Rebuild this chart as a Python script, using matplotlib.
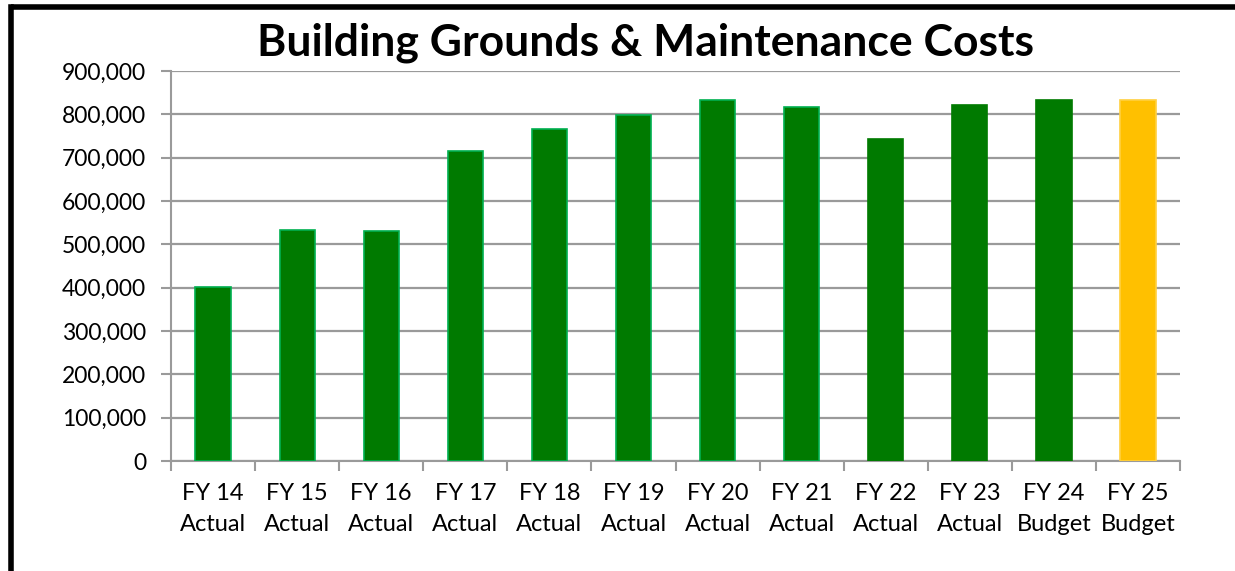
import matplotlib
matplotlib.use('Agg')
import matplotlib.pyplot as plt
from matplotlib.lines import Line2D
from matplotlib.ticker import FuncFormatter

plt.rcParams['font.family'] = ['Lato', 'DejaVu Sans']

categorias = ['FY 14\nActual', 'FY 15\nActual', 'FY 16\nActual', 'FY 17\nActual',
              'FY 18\nActual', 'FY 19\nActual', 'FY 20\nActual', 'FY 21\nActual',
              'FY 22\nActual', 'FY 23\nActual', 'FY 24\nBudget', 'FY 25\nBudget']
custos = [402000, 532000, 531000, 715000, 766000, 798000,
          833000, 818000, 744000, 821000, 833000, 833000]
cores = ['#007A00'] * 11 + ['#FFC000']
bordas = ['#00B050'] * 8 + ['#007A00'] * 3 + ['#FFD040']

fig = plt.figure(figsize=(12.35, 5.71), dpi=100)
ax = fig.add_axes([0.1385, 0.1926, 0.8170, 0.6831])

x = range(len(categorias))
ax.bar(x, custos, width=0.42, color=cores, edgecolor=bordas, linewidth=1.2, zorder=3)

ax.set_xlim(-0.5, len(categorias) - 0.5)
ax.set_ylim(0, 900000)
ax.set_yticks(range(0, 900001, 100000))
ax.yaxis.set_major_formatter(FuncFormatter(lambda v, p: f'{int(v):,}'))
ax.grid(axis='y', color='#9a9a9a', linewidth=1.6, zorder=0)

ax.set_xticks([i - 0.5 for i in range(len(categorias) + 1)])
ax.set_xticklabels([])
ax.set_xticks(list(x), minor=True)
ax.set_xticklabels(categorias, minor=True, fontsize=17, linespacing=1.6)
ax.tick_params(axis='x', which='minor', length=0, pad=16)
ax.tick_params(axis='x', which='major', length=7, width=1.5, color='#9a9a9a')
ax.tick_params(axis='y', length=7, width=1.5, color='#9a9a9a', labelsize=16.5, pad=11)

for lado in ['top', 'right']:
    ax.spines[lado].set_visible(False)
for lado in ['left', 'bottom']:
    ax.spines[lado].set_color('#9a9a9a')
    ax.spines[lado].set_linewidth(1.5)

fig.text(0.5227, 0.926, 'Building Grounds & Maintenance Costs', ha='center', va='center',
         fontsize=32, fontweight='bold')

# moldura preta (esquerda e topo)
xm = 10.5 / 1235
ym = 1 - 6.5 / 571
fig.add_artist(Line2D([xm, xm], [-0.05, ym], transform=fig.transFigure,
                      color='black', linewidth=4, solid_capstyle='projecting'))
fig.add_artist(Line2D([xm, 1.0], [ym, ym], transform=fig.transFigure,
                      color='black', linewidth=4, solid_capstyle='butt'))

fig.savefig('out.png', dpi=100)
